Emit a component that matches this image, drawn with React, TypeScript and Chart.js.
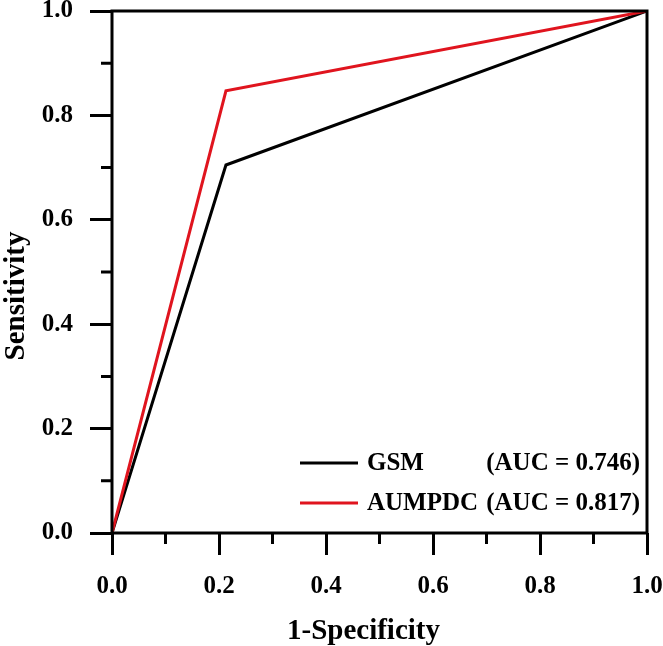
import React, { useEffect, useRef } from "react";
import { Chart, registerables } from "chart.js";

Chart.register(...registerables);

// ---- data ----
const fpr = [0, 0.213, 1];
const gsmTpr = [0, 0.705, 1];
const aumpdcTpr = [0, 0.847, 1];
const seriesNames = ["GSM", "AUMPDC"];
const aucLabels = ["(AUC = 0.746)", "(AUC = 0.817)"];
const majorTicks = [0, 0.2, 0.4, 0.6, 0.8, 1.0];
const minorTicks = [0.1, 0.3, 0.5, 0.7, 0.9];
const xTitle = "1-Specificity";
const yTitle = "Sensitivity";

const FONT = '"Liberation Serif", "Times New Roman", serif';
const RED = "#e0141e";
const BLACK = "#000000";

const decorPlugin = {
  id: "decor",
  afterDraw(chart: any) {
    const { ctx, chartArea } = chart;
    const xs = chart.scales.x;
    const ys = chart.scales.y;
    ctx.save();
    // frame
    ctx.strokeStyle = "#000";
    ctx.lineWidth = 3;
    ctx.strokeRect(chartArea.left, chartArea.top, chartArea.right - chartArea.left, chartArea.bottom - chartArea.top);
    // minor ticks
    ctx.lineWidth = 3;
    ctx.beginPath();
    for (const v of minorTicks) {
      const px = xs.getPixelForValue(v);
      ctx.moveTo(px, chartArea.bottom);
      ctx.lineTo(px, chartArea.bottom + 11);
      const py = ys.getPixelForValue(v);
      ctx.moveTo(chartArea.left, py);
      ctx.lineTo(chartArea.left - 11, py);
    }
    ctx.stroke();
    // axis titles
    ctx.fillStyle = "#000";
    ctx.font = `bold 29px ${FONT}`;
    ctx.textAlign = "center";
    ctx.textBaseline = "middle";
    ctx.fillText(xTitle, chartArea.left + (chartArea.right - chartArea.left) / 2 - 16, 632);
    ctx.save();
    ctx.translate(17, chartArea.top + (chartArea.bottom - chartArea.top) / 2 + 24);
    ctx.rotate(-Math.PI / 2);
    ctx.fillText(yTitle, 0, 0);
    ctx.restore();
    // legend
    const colors = [BLACK, RED];
    ctx.font = `bold 25px ${FONT}`;
    for (let i = 0; i < seriesNames.length; i++) {
      const y = chartArea.bottom - 70 + i * 40;
      ctx.strokeStyle = colors[i];
      ctx.lineWidth = 3;
      ctx.beginPath();
      ctx.moveTo(chartArea.left + 188, y);
      ctx.lineTo(chartArea.left + 246, y);
      ctx.stroke();
      ctx.textAlign = "left";
      ctx.fillText(seriesNames[i], chartArea.left + 255, y + 1);
      ctx.textAlign = "right";
      ctx.fillText(aucLabels[i], chartArea.right - 7, y + 1);
    }
    ctx.restore();
  },
};

export default function App() {
  const ref = useRef<HTMLCanvasElement>(null);
  useEffect(() => {
    document.body.style.margin = "0";
    const canvas = ref.current!;
    const tickFont = { family: FONT, size: 25, weight: "bold" as const };
    const chart = new Chart(canvas, {
      type: "line",
      data: {
        datasets: [
          {
            label: seriesNames[1],
            data: fpr.map((x, i) => ({ x, y: aumpdcTpr[i] })),
            borderColor: RED,
            borderWidth: 3,
            pointRadius: 0,
            fill: false,
            tension: 0,
          },
          {
            label: seriesNames[0],
            data: fpr.map((x, i) => ({ x, y: gsmTpr[i] })),
            borderColor: BLACK,
            borderWidth: 3,
            pointRadius: 0,
            fill: false,
            tension: 0,
          },
        ],
      },
      options: {
        responsive: false,
        animation: false,
        layout: { padding: { left: 0, top: 11, right: 16, bottom: 0 } },
        plugins: { legend: { display: false }, tooltip: { enabled: false } },
        scales: {
          x: {
            type: "linear",
            min: 0,
            max: 1,
            afterBuildTicks: (s: any) => {
              s.ticks = majorTicks.map((v) => ({ value: v }));
            },
            afterFit: (s: any) => {
              s.height = 113;
              s.paddingLeft = 0;
              s.paddingRight = 0;
            },
            ticks: {
              color: "#000",
              font: tickFont,
              padding: 17,
              maxRotation: 0,
              callback: (v: any) => Number(v).toFixed(1),
            },
            grid: {
              display: true,
              drawOnChartArea: false,
              drawTicks: true,
              tickLength: 22,
              tickWidth: 3,
              tickColor: "#000",
            },
            border: { display: false },
          },
          y: {
            type: "linear",
            min: 0,
            max: 1,
            afterBuildTicks: (s: any) => {
              s.ticks = majorTicks.map((v) => ({ value: v }));
            },
            afterFit: (s: any) => {
              s.width = 112;
              s.paddingTop = 0;
              s.paddingBottom = 0;
            },
            ticks: {
              color: "#000",
              font: tickFont,
              padding: 17,
              callback: (v: any) => Number(v).toFixed(1),
            },
            grid: {
              display: true,
              drawOnChartArea: false,
              drawTicks: true,
              tickLength: 22,
              tickWidth: 3,
              tickColor: "#000",
            },
            border: { display: false },
          },
        },
      },
      plugins: [decorPlugin],
    });
    return () => chart.destroy();
  }, []);
  return (
    <div style={{ width: 663, height: 646 }}>
      <canvas ref={ref} width={663} height={646} style={{ display: "block" }} />
    </div>
  );
}
